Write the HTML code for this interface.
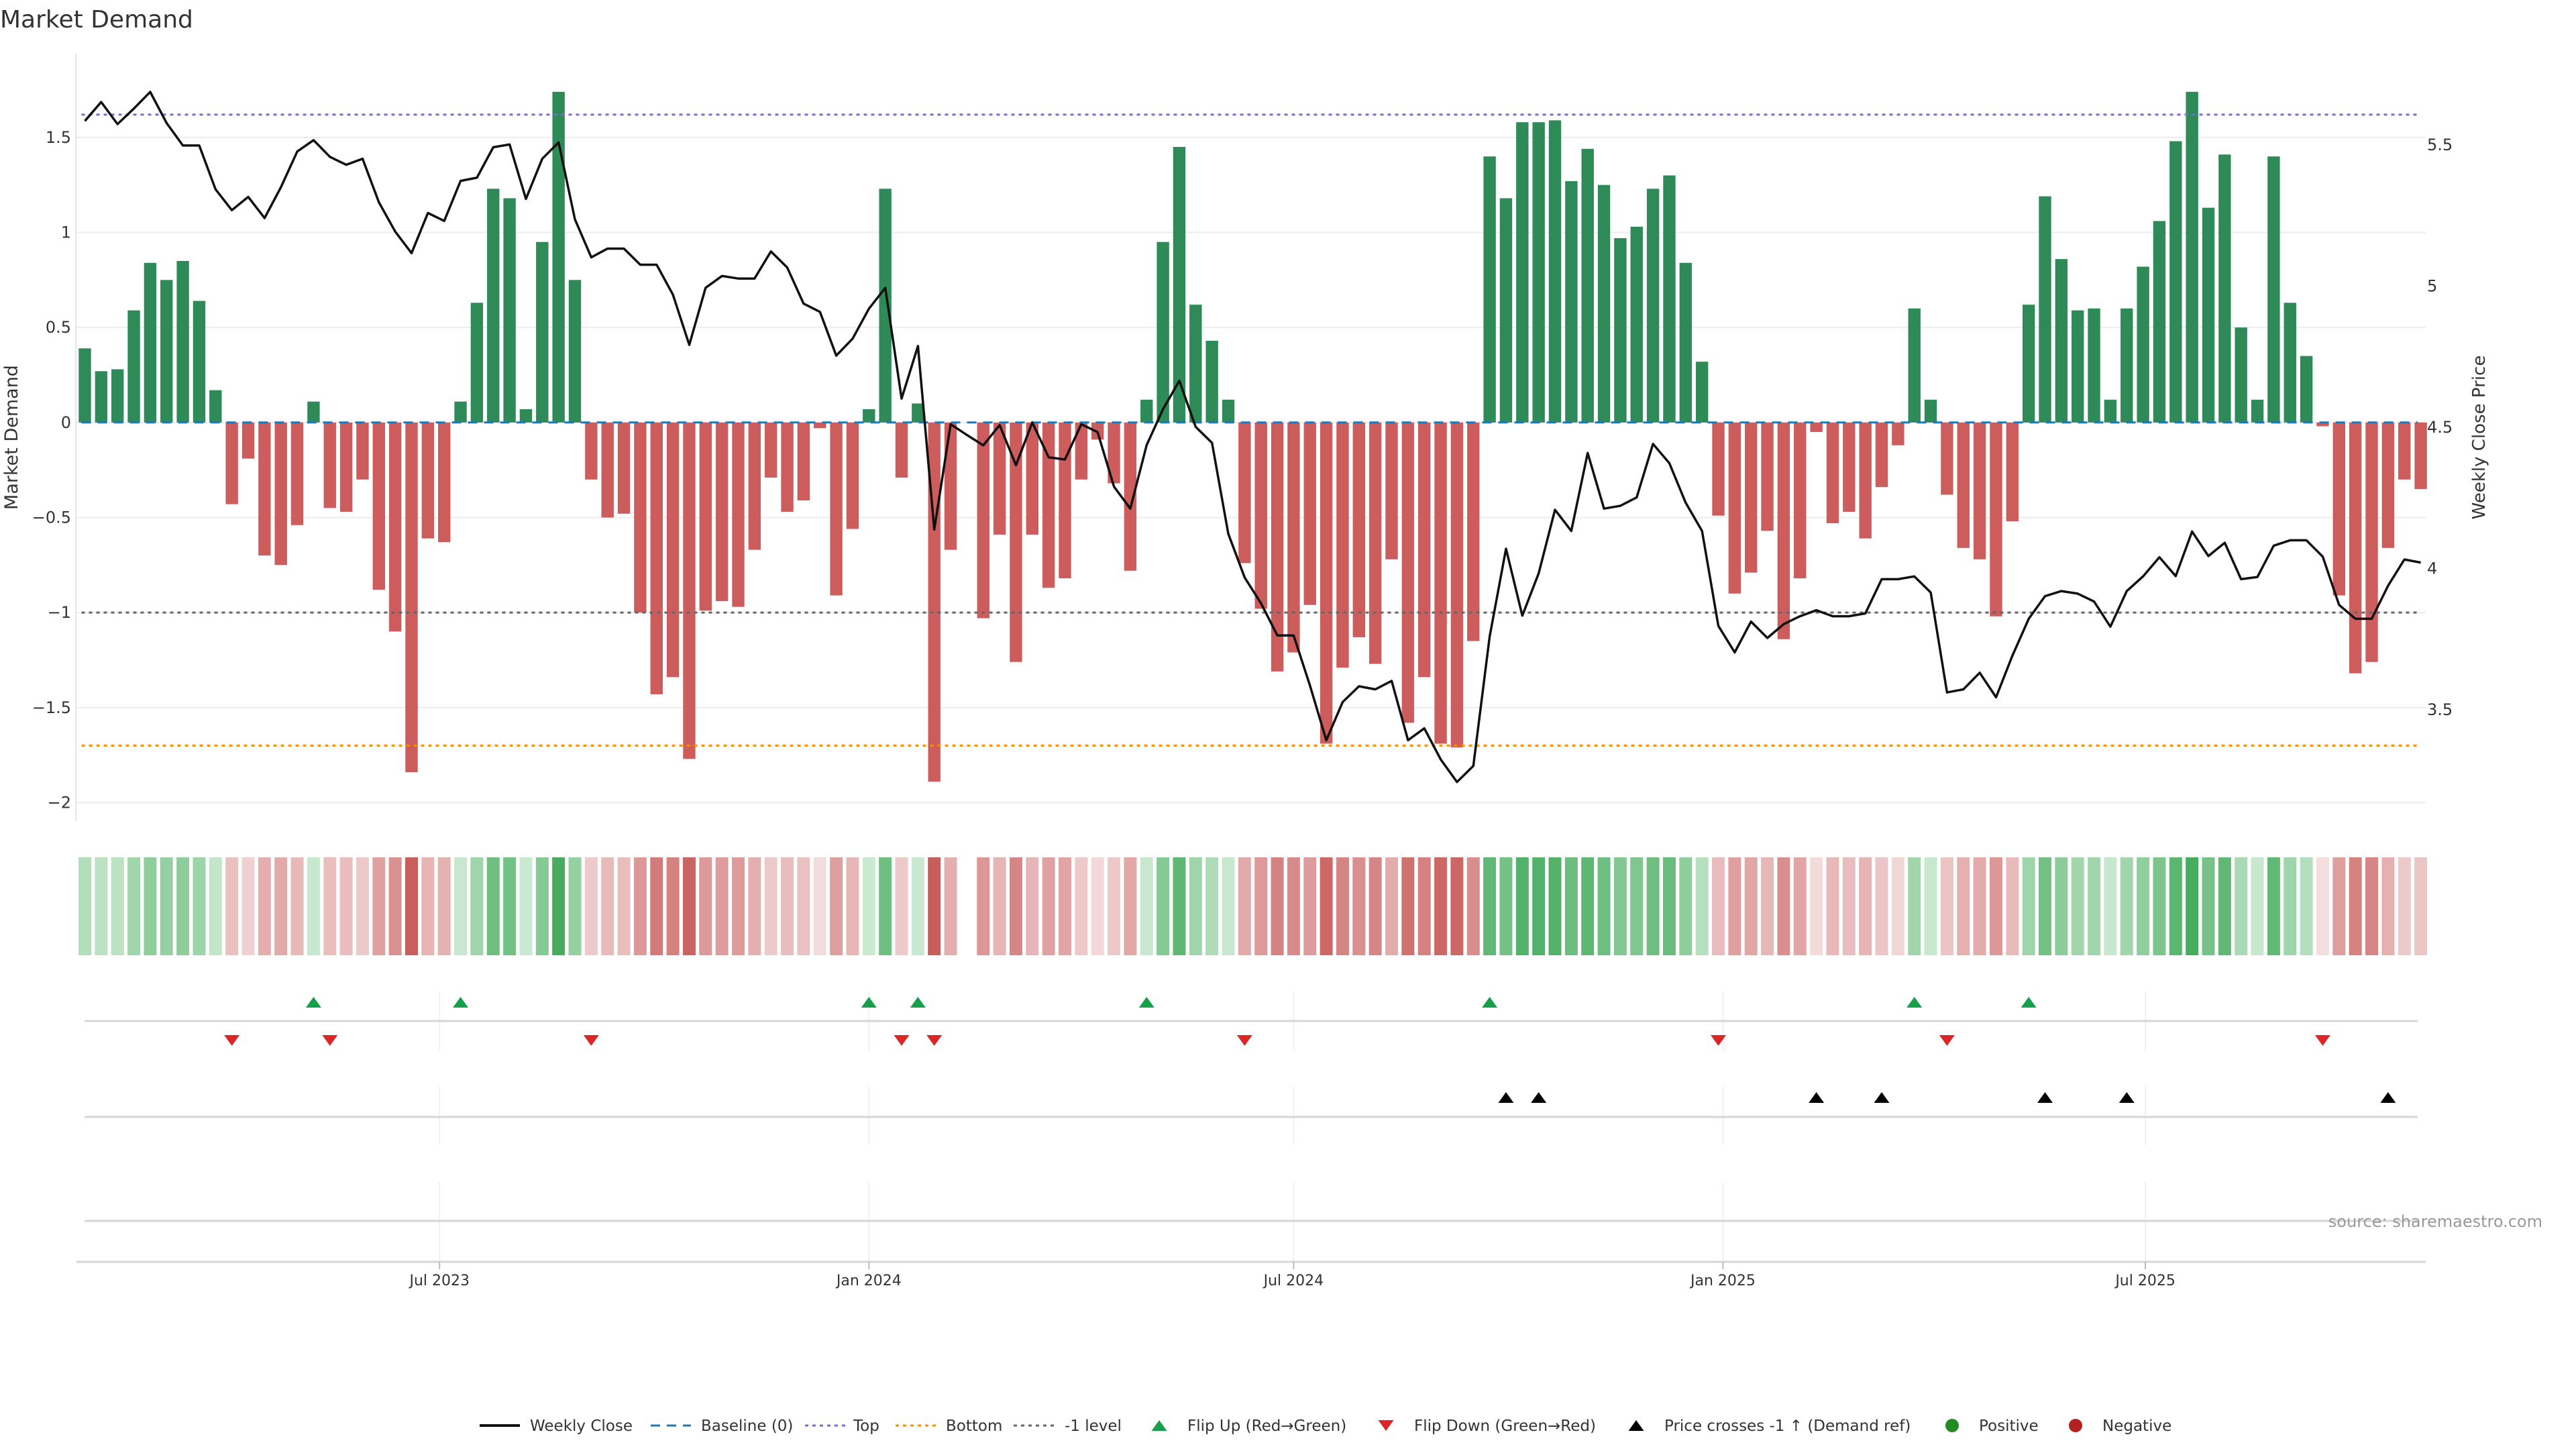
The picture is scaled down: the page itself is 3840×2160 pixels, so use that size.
<!DOCTYPE html>
<html><head><meta charset="utf-8"><title>Market Demand</title>
<style>
html,body{margin:0;padding:0;background:#fff;}
svg{display:block;font-family:"DejaVu Sans","Liberation Sans",sans-serif;}
</style></head>
<body>
<svg id="chart" width="3840" height="2160" viewBox="0 0 3840 2160" xmlns="http://www.w3.org/2000/svg">
<rect x="0" y="0" width="3840" height="2160" fill="#fff"/>
<text x="0" y="41" font-size="36" fill="#333">Market Demand</text>
<g id="grid"></g><g id="bars"></g><g id="refs"></g><g id="price"></g><g id="axes"></g>
<g id="heat"></g><g id="panels"></g><g id="legend"></g>
<text x="3790" y="1829" font-size="24" fill="#999" text-anchor="end">source: sharemaestro.com</text>
</svg>
<script>
const demand = [0.39,0.27,0.28,0.59,0.84,0.75,0.85,0.64,0.17,-0.43,-0.19,-0.70,-0.75,-0.54,0.11,-0.45,-0.47,-0.30,-0.88,-1.10,-1.84,-0.61,-0.63,0.11,0.63,1.23,1.18,0.07,0.95,1.74,0.75,-0.30,-0.50,-0.48,-1.00,-1.43,-1.34,-1.77,-0.99,-0.94,-0.97,-0.67,-0.29,-0.47,-0.41,-0.03,-0.91,-0.56,0.07,
1.23,-0.29,0.10,-1.89,-0.67,0,-1.03,-0.59,-1.26,-0.59,-0.87,-0.82,-0.30,-0.09,-0.32,-0.78,0.12,0.95,1.45,0.62,0.43,0.12,-0.74,-0.98,-1.31,-1.21,-0.96,-1.69,-1.29,-1.13,-1.27,-0.72,-1.58,-1.34,-1.69,-1.71,-1.15,1.40,1.18,1.58,1.58,1.59,1.27,1.44,1.25,0.97,1.03,1.23,1.30,0.84,0.32,
-0.49,-0.90,-0.79,-0.57,-1.14,-0.82,-0.05,-0.53,-0.47,-0.61,-0.34,-0.12,0.60,0.12,-0.38,-0.66,-0.72,-1.02,-0.52,0.62,1.19,0.86,0.59,0.60,0.12,0.60,0.82,1.06,1.48,1.74,1.13,1.41,0.50,0.12,1.40,0.63,0.35,-0.02,-0.91,-1.32,-1.26,-0.66,-0.30,-0.35];
const price = [5.585,5.652,5.574,5.629,5.688,5.578,5.498,5.498,5.343,5.269,5.316,5.241,5.350,5.477,5.517,5.458,5.430,5.451,5.297,5.193,5.117,5.259,5.231,5.373,5.384,5.492,5.502,5.309,5.451,5.509,5.237,5.102,5.133,5.133,5.076,5.076,4.970,4.792,4.994,5.036,5.027,5.027,5.123,5.066,4.938,4.909,4.754,4.814,4.920,
4.994,4.602,4.788,4.138,4.511,4.473,4.436,4.508,4.366,4.517,4.394,4.386,4.511,4.483,4.290,4.212,4.437,4.564,4.665,4.502,4.445,4.123,3.968,3.877,3.763,3.763,3.585,3.392,3.527,3.583,3.572,3.602,3.392,3.434,3.324,3.244,3.301,3.759,4.070,3.833,3.983,4.208,4.133,4.409,4.212,4.222,4.252,4.441,4.373,4.233,4.133,
3.797,3.703,3.812,3.754,3.803,3.831,3.852,3.831,3.831,3.841,3.962,3.962,3.972,3.915,3.561,3.572,3.631,3.544,3.691,3.822,3.902,3.920,3.911,3.883,3.794,3.920,3.972,4.040,3.973,4.131,4.044,4.091,3.962,3.970,4.081,4.100,4.100,4.042,3.871,3.822,3.822,3.939,4.032,4.021];
const leftTicks = [1.5,1,0.5,0,-0.5,-1,-1.5,-2];
const leftTickLabels = ["1.5","1","0.5","0","\u22120.5","\u22121","\u22121.5","\u22122"];
const rightTicks = [3.5,4,4.5,5,5.5];
const rightTickLabels = ["3.5","4","4.5","5","5.5"];
const xTickDates = ["2023-07-01","2024-01-01","2024-07-01","2025-01-01","2025-07-01"];
const xTickLabels = ["Jul 2023","Jan 2024","Jul 2024","Jan 2025","Jul 2025"];
const firstDate = "2023-01-30";
const topLevel = 1.62, bottomLevel = -1.70, minusOneLevel = -1;

const NS = "http://www.w3.org/2000/svg";
const X0 = 126.5, STEP = 24.35, PL = 113, PR = 3616;
const xi = i => X0 + i * STEP;
const xd = d => X0 + (new Date(d) - new Date(firstDate)) / 864e5 / 7 * STEP;
const yL = v => 629.8 - v * 283.3;
const yR = p => 637 - (p - 4.5) * 420.9;
const yRinv = y => 4.5 - (y - 637) / 420.9;
function mk(parent, tag, attrs, text) {
  const e = document.createElementNS(NS, tag);
  for (const k in attrs) e.setAttribute(k, attrs[k]);
  if (text !== undefined) e.textContent = text;
  document.getElementById(parent).appendChild(e);
  return e;
}
leftTicks.forEach((v, k) => {
  let g = mk('grid', 'line', {x1: PL, x2: PR, y1: yL(v), y2: yL(v), stroke: '#ececec', 'stroke-width': 2});
  
  
  let t = mk('axes', 'text', {x: 106, y: yL(v) + 8, 'font-size': 24, fill: '#333', 'text-anchor': 'end'}, leftTickLabels[k]);
  
  
});
rightTicks.forEach((p, k) => {
  let t = mk('axes', 'text', {x: 3618, y: yR(p) + 8, 'font-size': 24, fill: '#333'}, rightTickLabels[k]);
  
  
});
let ax = mk('axes', 'line', {x1: PL, x2: PL, y1: 80, y2: 1224, stroke: '#e6e6e6', 'stroke-width': 2});


let yt = mk('axes', 'text', {x: 0, y: 0, 'font-size': 27, fill: '#333', 'text-anchor': 'middle', transform: 'translate(26,652) rotate(-90)'}, 'Market Demand');


let yt2 = mk('axes', 'text', {x: 0, y: 0, 'font-size': 26, fill: '#333', 'text-anchor': 'middle', transform: 'translate(3704,652) rotate(-90)'}, 'Weekly Close Price');


demand.forEach((v, i) => {
  if (v === 0) return;
  const y0 = yL(0), y1 = yL(v);
  let r = mk('bars', 'rect', {x: xi(i) - 9.2, width: 18.4, y: Math.min(y0, y1), height: Math.abs(y1 - y0), fill: v > 0 ? '#2e8b57' : '#cd5c5c'});
  
  
});
function ref(v, color, dash, name, w) {
  let l = mk('refs', 'line', {x1: X0 - 5, x2: 3604, y1: yL(v), y2: yL(v), stroke: color, 'stroke-width': w || 3, 'stroke-dasharray': dash});
  
  
}
ref(0, '#1f77b4', '14 10', 'baseline-zero');
ref(topLevel, '#7a6ad8', '5 6', 'top-level-line');
ref(bottomLevel, '#ff8c00', '5 6', 'bottom-level-line');
ref(minusOneLevel, '#666', '5 6', 'minus-one-level-line');
let pts = price.map((p, i) => xi(i).toFixed(1) + ',' + yR(p).toFixed(1)).join(' ');
let pl = mk('price', 'polyline', {points: pts, fill: 'none', stroke: '#111', 'stroke-width': 3.5, 'stroke-linejoin': 'round'});


function lerp(a, b, t) { return a.map((c, k) => Math.round(c + (b[k] - c) * t)); }
demand.forEach((v, i) => {
  if (v === 0) return;
  const t = Math.min(1, Math.abs(v) / 1.85);
  const c = v > 0 ? lerp([208, 236, 214], [62, 168, 86], t) : lerp([244, 222, 222], [200, 94, 92], t);
  let r = mk('heat', 'rect', {x: xi(i) - 9.5, width: 19, y: 1278, height: 146, fill: 'rgb(' + c.join(',') + ')'});
  
  
});
[[1478, 1566], [1620, 1707], [1762, 1880]].forEach(([a, b]) => {
  xTickDates.forEach(d => {
    let g = mk('panels', 'line', {x1: xd(d), x2: xd(d), y1: a, y2: b, stroke: '#eef0f2', 'stroke-width': 2});
    
    
  });
});
[[1522, 126, 3604], [1665, 126, 3604], [1820, 126, 3604], [1881, 114, 3616]].forEach(([y, a, b], k) => {
  let l = mk('panels', 'line', {x1: a, x2: b, y1: y, y2: y, stroke: '#d6d6d6', 'stroke-width': 3});
  
  
});
function tri(x, y, up, color, name) {
  const h = 16, w = 11.5;
  const p = up ? [[x, y - h / 2], [x + w, y + h / 2], [x - w, y + h / 2]] : [[x, y + h / 2], [x + w, y - h / 2], [x - w, y - h / 2]];
  return mk(name.startsWith('legend') ? 'legend' : 'panels', 'polygon', {points: p.map(q => q.join(',')).join(' '), fill: color});
}
const crossRef = yRinv(yL(minusOneLevel));
for (let i = 1; i < demand.length; i++) {
  const prev = demand[i - 1] !== 0 ? demand[i - 1] : demand[i - 2];
  if (prev < 0 && demand[i] > 0) {
    let t = tri(xi(i), 1494, true, '#17a04a', 'flip-up-marker');
    
    
  }
  if (prev > 0 && demand[i] < 0) {
    let t = tri(xi(i), 1551, false, '#dc2626', 'flip-down-marker');
    
    
  }
  if (price[i - 1] < crossRef && price[i] >= crossRef) {
    let t = tri(xi(i), 1636, true, '#000', 'price-cross-marker');
    
    
  }
}
xTickDates.forEach((d, k) => {
  let tk = mk('panels', 'line', {x1: xd(d), x2: xd(d), y1: 1881, y2: 1892, stroke: '#bbb', 'stroke-width': 2});
  
  
  let t = mk('panels', 'text', {x: xd(d), y: 1916, 'font-size': 22, fill: '#333', 'text-anchor': 'middle'}, xTickLabels[k]);
  
  
});
const LY = 2125;
function legText(x, s) {
  let t = mk('legend', 'text', {x: x, y: LY + 8, 'font-size': 23, fill: '#333'}, s);
  
  
}
function legLine(x, color, dash, w) {
  let l = mk('legend', 'line', {x1: x, x2: x + 60, y1: LY, y2: LY, stroke: color, 'stroke-width': w, 'stroke-dasharray': dash});
  
  
}
legLine(715, '#111', 'none', 4); legText(790, 'Weekly Close');
legLine(970, '#1f77b4', '14 10', 3); legText(1045, 'Baseline (0)');
legLine(1200, '#7a6ad8', '5 6', 3); legText(1272, 'Top');
legLine(1335, '#ff8c00', '5 6', 3); legText(1410, 'Bottom');
legLine(1511, '#666', '5 6', 3); legText(1587, '-1 level');
let lt1 = tri(1728, LY, true, '#17a04a', 'legend');


legText(1770, 'Flip Up (Red\u2192Green)');
let lt2 = tri(2066, LY, false, '#dc2626', 'legend');


legText(2108, 'Flip Down (Green\u2192Red)');
let lt3 = tri(2439, LY, true, '#000', 'legend');


legText(2481, 'Price crosses -1 \u2191 (Demand ref)');
let c1 = mk('legend', 'circle', {cx: 2910, cy: LY, r: 10, fill: '#228b22'});


legText(2950, 'Positive');
let c2 = mk('legend', 'circle', {cx: 3094, cy: LY, r: 10, fill: '#b22222'});


legText(3134, 'Negative');
</script>
</body></html>
